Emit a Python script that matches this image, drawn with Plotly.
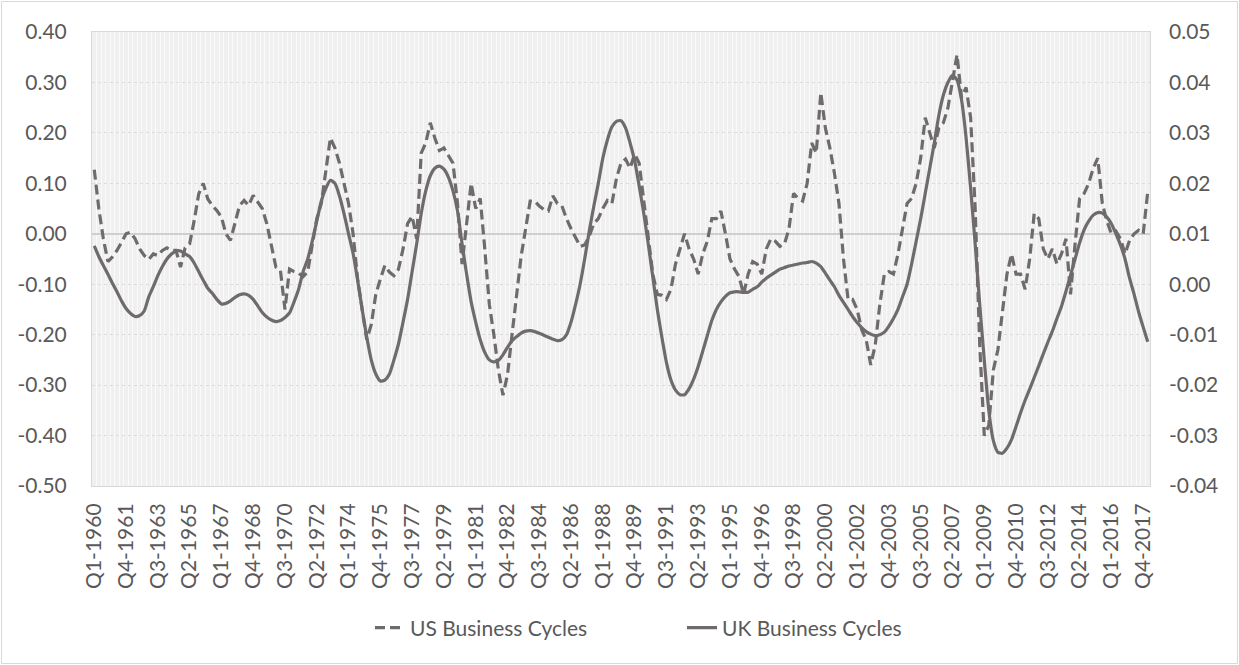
import plotly.graph_objects as go

years = list(range(1960, 2019))
quarters = [f"Q{q}-{y}" for y in years for q in (1, 2, 3, 4)][:233]

us_cycles = [
    0.127, 0.05, -0.01, -0.055, -0.046, -0.033, -0.017, 0.0, 0.003, -0.01,
    -0.03, -0.043, -0.051, -0.04, -0.043, -0.033, -0.028, -0.033, -0.033, -0.066,
    -0.028, -0.02, 0.026, 0.079, 0.1, 0.069, 0.056, 0.046, 0.033, 0.0,
    -0.013, 0.02, 0.056, 0.066, 0.056, 0.076, 0.063, 0.05, 0.02, -0.026,
    -0.066, -0.073, -0.15, -0.07, -0.075, -0.078, -0.085, -0.075, -0.02, 0.03,
    0.06, 0.12, 0.19, 0.17, 0.14, 0.10, 0.06, 0.0, -0.09, -0.15,
    -0.21, -0.18, -0.12, -0.09, -0.063, -0.076, -0.083, -0.07, -0.03, 0.02,
    0.035, -0.01, 0.16, 0.18, 0.22, 0.19, 0.165, 0.17, 0.155, 0.14,
    0.06, -0.06, 0.02, 0.10, 0.05, 0.07, -0.03, -0.14, -0.20, -0.27,
    -0.32, -0.28, -0.20, -0.125, -0.045, 0.01, 0.065, 0.065, 0.055, 0.048,
    0.045, 0.075, 0.06, 0.055, 0.03, 0.01, -0.007, -0.025, -0.022, -0.005,
    0.02, 0.03, 0.05, 0.066, 0.06, 0.11, 0.14, 0.148, 0.13, 0.158,
    0.14, 0.07, 0.0, -0.08, -0.12, -0.122, -0.13, -0.11, -0.06, -0.03,
    0.0, -0.03, -0.05, -0.08, -0.04, -0.015, 0.03, 0.03, 0.045, 0.0,
    -0.05, -0.07, -0.085, -0.12, -0.08, -0.055, -0.06, -0.08, -0.03, -0.01,
    -0.015, -0.025, -0.02, 0.01, 0.08, 0.07, 0.065, 0.10, 0.18, 0.16,
    0.28, 0.21, 0.17, 0.12, 0.06, -0.05, -0.13, -0.13, -0.15, -0.19,
    -0.21, -0.26, -0.22, -0.14, -0.08, -0.075, -0.08, -0.04, 0.01, 0.06,
    0.07, 0.10, 0.15, 0.23, 0.20, 0.17, 0.21, 0.22, 0.25, 0.30,
    0.355, 0.27, 0.29, 0.23, 0.05, -0.22, -0.40, -0.38, -0.27, -0.23,
    -0.16, -0.08, -0.04, -0.08, -0.08, -0.11, -0.05, 0.04, 0.03, -0.03,
    -0.05, -0.03, -0.06, -0.04, -0.01, -0.12, -0.02, 0.07, 0.08, 0.10,
    0.13, 0.15, 0.06, 0.025, 0.0, 0.005, -0.01, -0.04, -0.013, 0.0,
    0.007, 0.0, 0.083,
]

uk_cycles = [
    0.0076, 0.0055, 0.0037, 0.0020, 0.0002, -0.0015, -0.0033, -0.0048, -0.0058, -0.0064,
    -0.0062, -0.0053, -0.0025, -0.0005, 0.0017, 0.0035, 0.0050, 0.0060, 0.0066, 0.0066,
    0.0060, 0.0055, 0.0042, 0.0025, 0.0008, -0.0008, -0.0018, -0.0030, -0.0039, -0.0038,
    -0.0033, -0.0026, -0.0021, -0.0019, -0.0022, -0.0030, -0.0043, -0.0056, -0.0065, -0.0071,
    -0.0074, -0.0072, -0.0066, -0.0057, -0.0035, -0.0010, 0.0025, 0.0050, 0.0085, 0.0125,
    0.0165, 0.0190, 0.0206, 0.0200, 0.0175, 0.0140, 0.0100, 0.0061, 0.0008, -0.0050,
    -0.0104, -0.0150, -0.0178, -0.0192, -0.0190, -0.0178, -0.0150, -0.0118, -0.0075, -0.0030,
    0.0025, 0.0080, 0.0140, 0.0185, 0.0215, 0.0230, 0.0234, 0.0228, 0.0212, 0.0185,
    0.0145, 0.0080, 0.0020, -0.0035, -0.0075, -0.0110, -0.0135, -0.0150, -0.0154, -0.0151,
    -0.0140, -0.0125, -0.0112, -0.0104, -0.0097, -0.0093, -0.0092, -0.0094, -0.0097, -0.0101,
    -0.0105, -0.0109, -0.0112, -0.0110, -0.0100, -0.0075, -0.0040, 0.0000, 0.0050, 0.0105,
    0.0154, 0.0200, 0.0250, 0.0286, 0.0312, 0.0323, 0.0324, 0.0310, 0.0280, 0.0245,
    0.0195, 0.0141, 0.0080, 0.0015, -0.0050, -0.0105, -0.0155, -0.0190, -0.0210, -0.0219,
    -0.0219, -0.0207, -0.0188, -0.0163, -0.0133, -0.0102, -0.0072, -0.0050, -0.0035, -0.0024,
    -0.0017, -0.0015, -0.0015, -0.0016, -0.0016, -0.0010, -0.0005, 0.0004, 0.0012, 0.0018,
    0.0024, 0.0030, 0.0033, 0.0036, 0.0038, 0.0040, 0.0042, 0.0043, 0.0045, 0.0042,
    0.0035, 0.0022, 0.0008, -0.0005, -0.0022, -0.0036, -0.0050, -0.0064, -0.0076, -0.0086,
    -0.0094, -0.0099, -0.0102, -0.0100, -0.0095, -0.0083, -0.0068, -0.0050, -0.0025, 0.0000,
    0.0040, 0.0085, 0.0130, 0.0180, 0.0230, 0.0280, 0.0335, 0.0375, 0.0400, 0.0414,
    0.0405, 0.0365, 0.0290, 0.0190, 0.0080, -0.0040, -0.0150, -0.0250, -0.0310, -0.0333,
    -0.0335, -0.0325, -0.0308, -0.0282, -0.0255, -0.0230, -0.0208, -0.0185, -0.0162, -0.0138,
    -0.0115, -0.0093, -0.0068, -0.0044, -0.0014, 0.0018, 0.0050, 0.0082, 0.0108, 0.0125,
    0.0137, 0.0142, 0.0141, 0.0133, 0.0120, 0.0100, 0.0078, 0.0050, 0.0012, -0.0020,
    -0.0055, -0.0085, -0.0114,
]

left_ticks = [-0.5, -0.4, -0.3, -0.2, -0.1, 0.0, 0.1, 0.2, 0.3, 0.4]
right_ticks = [-0.04, -0.03, -0.02, -0.01, 0.0, 0.01, 0.02, 0.03, 0.04, 0.05]

x_idx = list(range(len(quarters)))
tick_idx = x_idx[::7]
tick_text = [quarters[i] for i in tick_idx]

LINE = "#6f6b6b"
TXT = "#595959"
FONT = "Lato"

fig = go.Figure()
fig.add_trace(go.Scatter(
    x=x_idx, y=us_cycles, name="US Business Cycles", mode="lines",
    line=dict(color=LINE, width=3.2, dash="10px,5px"),
))
fig.add_trace(go.Scatter(
    x=x_idx, y=uk_cycles, name="UK Business Cycles", mode="lines", yaxis="y2",
    line=dict(color=LINE, width=3.2, shape="spline", smoothing=0.6),
))

W, H = 1239, 665
L, R, T, B = 92, 89, 32, 179
pw, ph = W - L - R, H - T - B

def px_x(v):
    return (v - L) / pw

def px_y(v):
    return (H - B - v) / ph

fig.update_layout(
    width=W, height=H,
    margin=dict(l=L, r=R, t=T, b=B, pad=0, autoexpand=False),
    paper_bgcolor="white",
    plot_bgcolor="#f0f0f0",
    font=dict(family=FONT, size=21, color=TXT),
    showlegend=True,
    legend=dict(orientation="h", x=px_x(370), xanchor="left", y=px_y(628), yanchor="middle",
                font=dict(family=FONT, size=21, color=TXT),
                entrywidth=267, entrywidthmode="pixels",
                bgcolor="rgba(0,0,0,0)"),
    xaxis=dict(
        range=[-0.5, len(quarters) - 0.5], automargin=False,
        tickmode="array", tickvals=tick_idx, ticktext=tick_text,
        tickangle=-90, ticks="", showgrid=False, zeroline=False,
        showline=True, linecolor="#d9d9d9", linewidth=1, mirror=True,
        minor=dict(tick0=0.5, dtick=1, showgrid=True, gridcolor="#fafafa", gridwidth=1, ticks=""),
        tickfont=dict(family=FONT, size=21, color=TXT),
        ticklabelstandoff=8,
    ),
    yaxis=dict(
        range=[-0.5, 0.4], automargin=False,
        tickmode="array", tickvals=left_ticks, ticktext=[f"{v:.2f}" for v in left_ticks],
        showgrid=True, gridcolor="#dcdcdc", gridwidth=1, griddash="dot",
        zeroline=True, zerolinecolor="#cfcfcf", zerolinewidth=1.5,
        showline=True, linecolor="#d9d9d9", linewidth=1, mirror=True,
        ticks="", ticklabelstandoff=20,
        tickfont=dict(family=FONT, size=21, color=TXT),
    ),
    yaxis2=dict(
        range=[-0.04, 0.05], automargin=False,
        tickmode="array", tickvals=right_ticks, ticktext=[f"{v:.2f}" for v in right_ticks],
        overlaying="y", side="right", showgrid=False, zeroline=False,
        ticks="", ticklabelstandoff=18,
        tickfont=dict(family=FONT, size=21, color=TXT),
    ),
    shapes=[dict(
        type="rect", xref="paper", yref="paper",
        x0=px_x(1.5), x1=px_x(W - 1.5), y0=px_y(H - 1.5), y1=px_y(1.5),
        line=dict(color="#d9d9d9", width=1), fillcolor="rgba(0,0,0,0)", layer="below",
    )],
)

fig.write_html("out.html", config={"displayModeBar": False},
               post_script="document.body.style.margin='0';")
